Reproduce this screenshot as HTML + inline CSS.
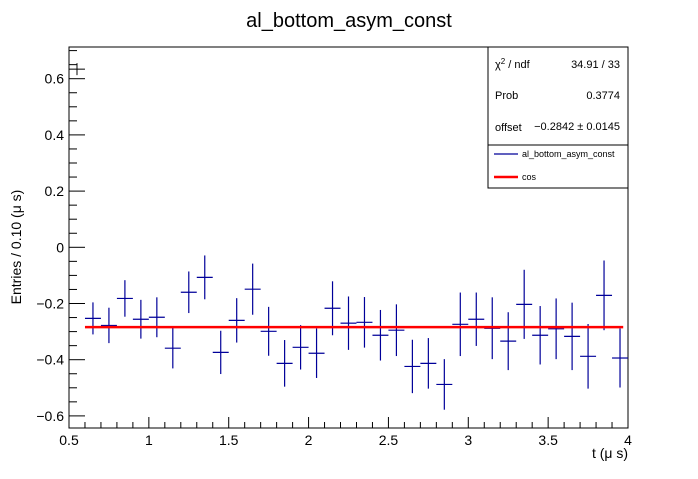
<!DOCTYPE html>
<html><head><meta charset="utf-8"><style>
body{margin:0;background:#fff;}
text{font-family:"Liberation Sans",sans-serif;}
</style></head><body>
<svg id="c" width="698" height="474" xmlns="http://www.w3.org/2000/svg">
<rect width="698" height="474" fill="#fff"/>
<text x="349" y="27" font-size="20" text-anchor="middle">al_bottom_asym_const</text>
<g id="axes"></g>
<g id="marks"></g>
<text x="628" y="458" font-size="14" text-anchor="end">t (μ s)</text>
<text transform="translate(21,247) rotate(-90)" font-size="14" text-anchor="middle">Entries / 0.10 (μ s)</text>
<g>
<rect x="488" y="47" width="140" height="98" fill="#fff" stroke="#000"/>
<text x="495" y="68" font-size="11">χ<tspan dy="-4" font-size="8">2</tspan><tspan dy="4"> / ndf</tspan></text>
<text x="620" y="68" font-size="11" text-anchor="end">34.91 / 33</text>
<text x="495" y="99" font-size="11">Prob</text>
<text x="620" y="99" font-size="11" text-anchor="end">0.3774</text>
<text x="495" y="131" font-size="11">offset</text>
<text x="620" y="130" font-size="11" text-anchor="end">−0.2842 ± 0.0145</text>
</g>
<g>
<rect x="488" y="145" width="140" height="43" fill="#fff" stroke="#000"/>
<line x1="494" y1="154" x2="518" y2="154" stroke="#000099" stroke-width="1.2"/>
<text x="522" y="157" font-size="9">al_bottom_asym_const</text>
<line x1="494" y1="177" x2="518" y2="177" stroke="#ff0000" stroke-width="2.5"/>
<text x="522" y="180" font-size="9">cos</text>
</g>
</svg>
<script>
const binCenters=[0.65,0.75,0.85,0.95,1.05,1.15,1.25,1.35,1.45,1.55,1.65,1.75,1.85,1.95,2.05,2.15,2.25,2.35,2.45,2.55,2.65,2.75,2.85,2.95,3.05,3.15,3.25,3.35,3.45,3.55,3.65,3.75,3.85,3.95];
const values=[-0.253,-0.278,-0.182,-0.256,-0.249,-0.359,-0.160,-0.107,-0.374,-0.260,-0.149,-0.299,-0.413,-0.356,-0.377,-0.217,-0.270,-0.267,-0.313,-0.295,-0.424,-0.413,-0.488,-0.274,-0.256,-0.288,-0.334,-0.203,-0.313,-0.290,-0.317,-0.388,-0.171,-0.394];
const errors=[0.057,0.063,0.065,0.069,0.071,0.072,0.074,0.078,0.077,0.079,0.091,0.087,0.083,0.079,0.088,0.096,0.095,0.090,0.090,0.092,0.095,0.090,0.090,0.113,0.095,0.110,0.103,0.123,0.104,0.108,0.120,0.115,0.124,0.105];
const firstBin=[0.55,0.634];
const fitValue=-0.2842;
const fitRange=[0.6,3.97];
const xTicks=[0.5,1,1.5,2,2.5,3,3.5,4];
const yTicks=[-0.6,-0.4,-0.2,0,0.2,0.4,0.6];
const X0=69,X1=628,Y0=47,Y1=428;
const xs=v=>X0+(v-0.5)/3.5*(X1-X0);
const ys=v=>247.3-v*281;
const NS="http://www.w3.org/2000/svg";
function mk(p,tag,a){const e=document.createElementNS(NS,tag);for(const k in a)e.setAttribute(k,a[k]);p.appendChild(e);return e;}
const ax=document.getElementById('axes'),mg=document.getElementById('marks');
const fr=mk(ax,'rect',{x:X0,y:Y0,width:X1-X0,height:Y1-Y0,fill:'none',stroke:'#000'});


for(let i=0;i<=35;i++){const v=0.5+i*0.1,x=xs(v),maj=i%5==0;mk(ax,'line',{x1:x,y1:Y1,x2:x,y2:Y1-(maj?11:6),stroke:'#000'});}
xTicks.forEach(v=>{const t=mk(ax,'text',{x:xs(v),y:Y1+17,'font-size':14,'text-anchor':'middle'});t.textContent=String(v);

});
for(let i=-13;i<=14;i++){const v=i*0.05,y=ys(v);if(y<Y0||y>Y1)continue;const maj=i%4==0;mk(ax,'line',{x1:X0,y1:y,x2:X0+(maj?16:8),y2:y,stroke:'#000'});}
yTicks.forEach(v=>{const t=mk(ax,'text',{x:X0-5,y:ys(v)+5,'font-size':14,'text-anchor':'end'});t.textContent=(v<0?'−':'')+Math.abs(v);

});
const hw=xs(0.05)-xs(0);
const f=mk(mg,'g',{});


mk(f,'line',{x1:xs(firstBin[0])-hw,y1:ys(firstBin[1]),x2:xs(firstBin[0])+hw,y2:ys(firstBin[1]),stroke:'#000'});
mk(f,'line',{x1:xs(firstBin[0]),y1:ys(firstBin[1])-6,x2:xs(firstBin[0]),y2:ys(firstBin[1])+6,stroke:'#000'});
binCenters.forEach((c,i)=>{const g=mk(mg,'g',{stroke:'#000099','stroke-width':1.2});


mk(g,'line',{x1:xs(c)-hw,y1:ys(values[i]),x2:xs(c)+hw,y2:ys(values[i])});
mk(g,'line',{x1:xs(c),y1:ys(values[i]+errors[i]),x2:xs(c),y2:ys(values[i]-errors[i])});});
const fl=mk(mg,'line',{x1:xs(fitRange[0]),y1:ys(fitValue),x2:xs(fitRange[1]),y2:ys(fitValue),stroke:'#ff0000','stroke-width':2.5});


</script>
</body></html>
